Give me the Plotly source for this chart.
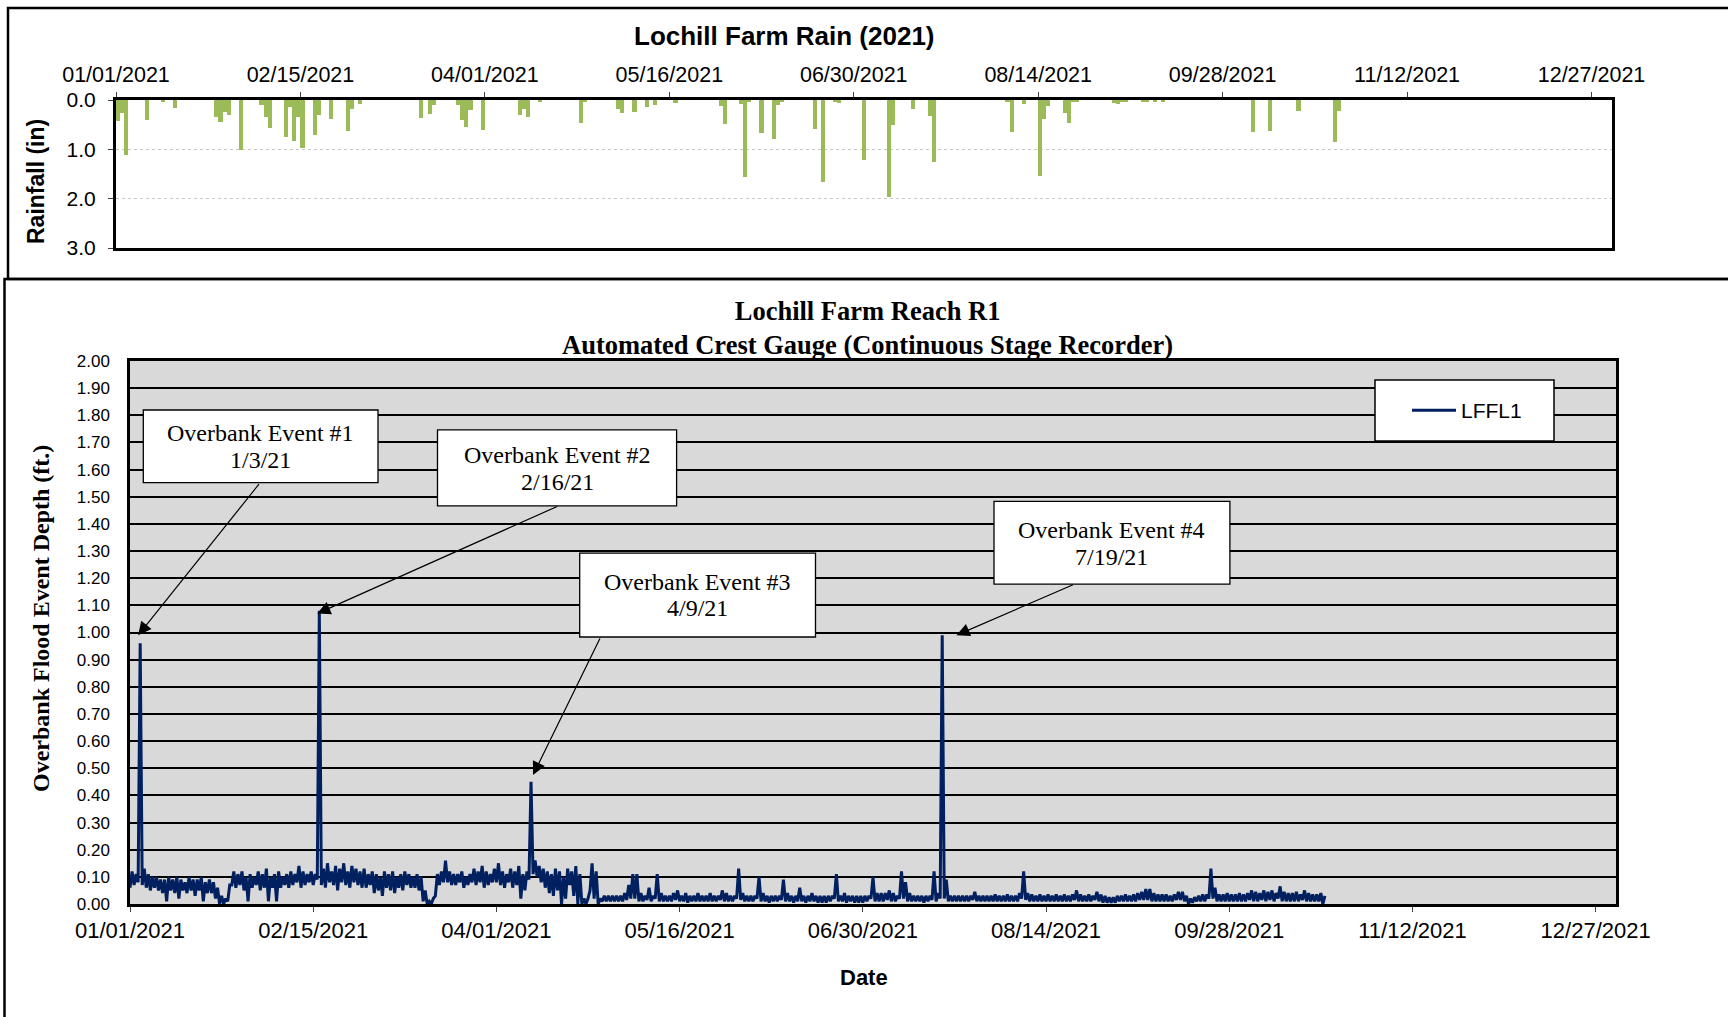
import pandas as pd
import plotly.graph_objects as go

W, H = 1728, 1017

# ---------------- data ----------------
# daily rainfall (inches), Lochill Farm 2021
rain_dates = [
    "2021-01-01", "2021-01-02", "2021-01-03", "2021-01-08", "2021-01-12", "2021-01-15",
    "2021-01-25", "2021-01-26", "2021-01-27", "2021-01-28", "2021-01-31",
    "2021-02-05", "2021-02-06", "2021-02-07", "2021-02-11", "2021-02-12", "2021-02-13",
    "2021-02-14", "2021-02-15", "2021-02-18", "2021-02-19", "2021-02-22", "2021-02-26",
    "2021-02-27", "2021-03-01", "2021-03-16", "2021-03-18", "2021-03-19", "2021-03-25",
    "2021-03-26", "2021-03-27", "2021-03-28", "2021-03-31", "2021-04-09", "2021-04-10",
    "2021-04-11", "2021-04-14", "2021-04-24", "2021-04-25", "2021-05-03", "2021-05-04",
    "2021-05-07", "2021-05-10", "2021-05-12", "2021-05-17", "2021-05-28", "2021-05-29",
    "2021-06-02", "2021-06-03", "2021-06-04", "2021-06-07", "2021-06-10", "2021-06-11",
    "2021-06-12", "2021-06-20", "2021-06-22", "2021-06-25", "2021-06-26", "2021-07-02",
    "2021-07-08", "2021-07-09", "2021-07-14", "2021-07-18", "2021-07-19", "2021-08-06",
    "2021-08-07", "2021-08-10", "2021-08-14", "2021-08-15", "2021-08-16", "2021-08-20",
    "2021-08-21", "2021-08-22", "2021-08-23", "2021-09-01", "2021-09-02", "2021-09-03",
    "2021-09-04", "2021-09-08", "2021-09-09", "2021-09-11", "2021-09-13", "2021-10-05",
    "2021-10-09", "2021-10-16", "2021-10-25", "2021-10-26",
]
rain_in = [
    0.42, 0.26, 1.12, 0.41, 0.05, 0.16,
    0.34, 0.45, 0.24, 0.31, 1.02,
    0.11, 0.34, 0.56, 0.74, 0.14, 0.83,
    0.34, 0.97, 0.70, 0.30, 0.38, 0.63,
    0.18, 0.09, 0.36, 0.29, 0.11, 0.11,
    0.41, 0.55, 0.20, 0.60, 0.30, 0.19,
    0.34, 0.05, 0.47, 0.03, 0.19, 0.27,
    0.25, 0.14, 0.11, 0.07, 0.12, 0.49,
    0.09, 1.57, 0.03, 0.67, 0.80, 0.11,
    0.05, 0.58, 1.66, 0.03, 0.07, 1.22,
    1.96, 0.50, 0.18, 0.32, 1.26, 0.05,
    0.64, 0.09, 1.55, 0.38, 0.12, 0.27,
    0.47, 0.04, 0.04, 0.07, 0.09, 0.04,
    0.04, 0.04, 0.04, 0.03, 0.03, 0.65,
    0.62, 0.22, 0.85, 0.22,
]

# continuous stage recorder LFFL1: daily low / daily high (ft), from 2021-01-01
stage_start = "2021-01-01"
stage_daily_low = [
    0.06, 0.07, 0.08, 0.07, 0.06, 0.05, 0.06, 0.05, 0.04, 0.01,
    0.05, 0.04, 0.02, 0.05, 0.04, 0.05, 0.03, 0.05, 0.01, 0.04,
    0.04, 0.02, 0.00, 0.00, 0.01, 0.07, 0.06, 0.07, 0.05, 0.01,
    0.06, 0.07, 0.05, 0.06, 0.01, 0.06, 0.01, 0.06, 0.07, 0.06,
    0.07, 0.08, 0.06, 0.07, 0.08, 0.07, 0.09, 0.07, 0.06, 0.08,
    0.07, 0.05, 0.08, 0.07, 0.06, 0.08, 0.07, 0.06, 0.06, 0.07,
    0.04, 0.05, 0.03, 0.06, 0.05, 0.04, 0.06, 0.05, 0.07, 0.06,
    0.06, 0.05, 0.01, 0.00, 0.00, 0.03, 0.07, 0.08, 0.08, 0.07,
    0.07, 0.08, 0.06, 0.07, 0.08, 0.07, 0.08, 0.06, 0.07, 0.08,
    0.08, 0.07, 0.06, 0.08, 0.06, 0.07, 0.02, 0.05, 0.09, 0.11,
    0.10, 0.08, 0.06, 0.04, 0.03, 0.05, 0.00, 0.02, 0.07, 0.03,
    0.00, 0.00, 0.00, 0.05, 0.02, 0.00, 0.01, 0.01, 0.01, 0.01,
    0.01, 0.01, 0.015, 0.02, 0.02, 0.01, 0.01, 0.015, 0.01, 0.02,
    0.01, 0.01, 0.01, 0.01, 0.015, 0.01, 0.01, 0.005, 0.01, 0.01,
    0.01, 0.01, 0.01, 0.01, 0.01, 0.015, 0.01, 0.01, 0.01, 0.02,
    0.015, 0.01, 0.01, 0.01, 0.02, 0.01, 0.01, 0.005, 0.01, 0.01,
    0.015, 0.01, 0.01, 0.005, 0.01, 0.01, 0.005, 0.01, 0.01, 0.005,
    0.005, 0.005, 0.01, 0.02, 0.01, 0.01, 0.005, 0.01, 0.005, 0.005,
    0.005, 0.01, 0.02, 0.01, 0.01, 0.01, 0.015, 0.01, 0.01, 0.02,
    0.02, 0.01, 0.01, 0.01, 0.01, 0.005, 0.01, 0.015, 0.01, 0.02,
    0.02, 0.01, 0.01, 0.01, 0.01, 0.01, 0.01, 0.015, 0.01, 0.01,
    0.01, 0.01, 0.01, 0.01, 0.01, 0.01, 0.01, 0.01, 0.01, 0.02,
    0.015, 0.01, 0.01, 0.01, 0.01, 0.01, 0.01, 0.01, 0.01, 0.01,
    0.01, 0.01, 0.015, 0.01, 0.01, 0.01, 0.01, 0.015, 0.01, 0.005,
    0.005, 0.005, 0.005, 0.01, 0.01, 0.01, 0.01, 0.01, 0.015, 0.015,
    0.015, 0.01, 0.01, 0.01, 0.01, 0.01, 0.01, 0.015, 0.015, 0.01,
    0.00, 0.005, 0.01, 0.01, 0.01, 0.02, 0.02, 0.01, 0.01, 0.01,
    0.01, 0.01, 0.01, 0.01, 0.01, 0.015, 0.01, 0.01, 0.015, 0.01,
    0.015, 0.01, 0.02, 0.01, 0.01, 0.01, 0.01, 0.01, 0.015, 0.01,
    0.01, 0.01, 0.01, 0.00,
]
stage_daily_high = [
    0.12, 0.11, 0.96, 0.13, 0.11, 0.10, 0.10, 0.09, 0.09, 0.10,
    0.09, 0.10, 0.09, 0.08, 0.10, 0.09, 0.09, 0.10, 0.08, 0.09,
    0.08, 0.06, 0.03, 0.02, 0.07, 0.12, 0.11, 0.12, 0.10, 0.11,
    0.10, 0.12, 0.11, 0.13, 0.10, 0.11, 0.12, 0.10, 0.11, 0.12,
    0.11, 0.14, 0.12, 0.11, 0.12, 0.11, 1.08, 0.13, 0.15, 0.12,
    0.14, 0.13, 0.15, 0.12, 0.14, 0.13, 0.12, 0.13, 0.11, 0.12,
    0.11, 0.10, 0.12, 0.11, 0.12, 0.10, 0.11, 0.12, 0.11, 0.10,
    0.11, 0.10, 0.05, 0.01, 0.02, 0.11, 0.12, 0.16, 0.12, 0.11,
    0.11, 0.12, 0.10, 0.11, 0.13, 0.12, 0.14, 0.12, 0.11, 0.13,
    0.15, 0.12, 0.11, 0.13, 0.12, 0.14, 0.11, 0.12, 0.45, 0.16,
    0.14, 0.13, 0.12, 0.11, 0.13, 0.12, 0.10, 0.13, 0.12, 0.14,
    0.11, 0.02, 0.02, 0.15, 0.12, 0.02, 0.03, 0.03, 0.03, 0.03,
    0.03, 0.04, 0.07, 0.11, 0.11, 0.04, 0.03, 0.06, 0.03, 0.11,
    0.04, 0.03, 0.03, 0.04, 0.05, 0.03, 0.04, 0.03, 0.03, 0.04,
    0.03, 0.03, 0.04, 0.03, 0.03, 0.05, 0.04, 0.03, 0.03, 0.13,
    0.04, 0.03, 0.03, 0.03, 0.10, 0.04, 0.03, 0.03, 0.03, 0.03,
    0.09, 0.04, 0.03, 0.03, 0.06, 0.03, 0.03, 0.04, 0.03, 0.03,
    0.03, 0.03, 0.03, 0.11, 0.03, 0.04, 0.03, 0.03, 0.03, 0.03,
    0.03, 0.03, 0.10, 0.04, 0.04, 0.04, 0.05, 0.04, 0.03, 0.12,
    0.08, 0.04, 0.03, 0.03, 0.03, 0.03, 0.03, 0.12, 0.04, 0.99,
    0.09, 0.03, 0.03, 0.03, 0.03, 0.03, 0.03, 0.045, 0.03, 0.03,
    0.03, 0.03, 0.035, 0.03, 0.03, 0.035, 0.03, 0.03, 0.04, 0.12,
    0.04, 0.035, 0.03, 0.035, 0.03, 0.035, 0.03, 0.035, 0.03, 0.035,
    0.03, 0.035, 0.05, 0.035, 0.03, 0.035, 0.03, 0.045, 0.035, 0.03,
    0.025, 0.025, 0.03, 0.03, 0.035, 0.03, 0.035, 0.04, 0.045, 0.055,
    0.055, 0.04, 0.035, 0.035, 0.035, 0.03, 0.035, 0.045, 0.045, 0.03,
    0.02, 0.025, 0.03, 0.035, 0.035, 0.13, 0.06, 0.035, 0.035, 0.04,
    0.035, 0.035, 0.04, 0.035, 0.04, 0.05, 0.045, 0.04, 0.05, 0.045,
    0.05, 0.04, 0.065, 0.045, 0.04, 0.04, 0.045, 0.035, 0.05, 0.04,
    0.035, 0.035, 0.04, 0.03,
]

# axis tick dates / labels (45-day spacing, as in the source)
tick_dates = ["2021-01-01", "2021-02-15", "2021-04-01", "2021-05-16", "2021-06-30",
              "2021-08-14", "2021-09-28", "2021-11-12", "2021-12-27"]
tick_labels = ["01/01/2021", "02/15/2021", "04/01/2021", "05/16/2021", "06/30/2021",
               "08/14/2021", "09/28/2021", "11/12/2021", "12/27/2021"]
date_range = ["2021-01-01", "2022-01-01"]

rain_ticks = [0, 1, 2, 3]
depth_ticks = [i / 10 for i in range(21)]

# overbank events: label lines, arrow target (date, depth)
event_titles = ["Overbank Event #1", "Overbank Event #2", "Overbank Event #3", "Overbank Event #4"]
event_dates_text = ["1/3/21", "2/16/21", "4/9/21", "7/19/21"]
event_tip_dates = ["2021-01-03", "2021-02-16", "2021-04-10", "2021-07-23"]
event_tip_depths = [0.99, 1.07, 0.475, 0.99]

# ---------------- layout geometry (pixels) ----------------
def px(x):
    return x / W


def py(y):
    return 1 - y / H


# label boxes: (x0, y0, x1, y1) in pixels
box_rects = [(143.3, 410.0, 378.0, 482.7), (437.5, 429.8, 676.6, 505.8),
             (579.7, 553.2, 815.5, 637.0), (994.0, 501.4, 1229.9, 584.1)]
box_text_shift = [0.0, 0.6, 0.0, 0.6]
arrow_offsets = [(122, -152.5), (241.4, -107.7), (67.6, -138), (118.1, -51.1)]

SANS = "Liberation Sans, Arial, sans-serif"
SERIF = "Liberation Serif, Times New Roman, serif"

# ---------------- stage series (low at 00:00, high at 12:00 each day) ----------------
start = pd.Timestamp(stage_start)
stage_x, stage_y = [], []
for i, (lo, hi) in enumerate(zip(stage_daily_low, stage_daily_high)):
    day = start + pd.Timedelta(days=i)
    stage_x += [day, day + pd.Timedelta(hours=12)]
    stage_y += [lo, hi]

fig = go.Figure()

fig.add_trace(go.Bar(
    x=rain_dates, y=rain_in, xaxis="x", yaxis="y",
    width=86400000, xperiod=86400000, xperiodalignment="middle",
    marker=dict(color="#9BBB59", line=dict(width=0)),
    showlegend=False, name="Rain",
))

fig.add_trace(go.Scatter(
    x=stage_x, y=stage_y, xaxis="x2", yaxis="y2", mode="lines", name="LFFL1",
    line=dict(color="#002060", width=3),
))

shapes = [
    # outer frames of the two charts
    dict(type="rect", xref="paper", yref="paper", x0=px(8), x1=1.05, y0=py(279), y1=py(8),
         line=dict(color="black", width=2.5), fillcolor="rgba(0,0,0,0)", layer="above"),
    dict(type="rect", xref="paper", yref="paper", x0=px(4.5), x1=1.05, y0=-0.05, y1=py(279),
         line=dict(color="black", width=2.5), fillcolor="rgba(0,0,0,0)", layer="above"),
    # gray plot area of stage chart
    dict(type="rect", xref="x2 domain", yref="y2 domain", x0=0, x1=1, y0=0, y1=1,
         fillcolor="#D9D9D9", line=dict(width=0), layer="below"),
    # legend box
    dict(type="rect", xref="paper", yref="paper", x0=px(1375), x1=px(1554), y0=py(441), y1=py(380),
         fillcolor="white", line=dict(color="black", width=1.5), layer="above"),
]
for (x0, y0, x1, y1) in box_rects:
    shapes.append(dict(type="rect", xref="paper", yref="paper", x0=px(x0), x1=px(x1),
                       y0=py(y1), y1=py(y0), fillcolor="white",
                       line=dict(color="black", width=1.3), layer="above"))

annotations = [
    dict(text="<b>Lochill Farm Rain (2021)</b>", x=px(784), y=py(36), xref="paper", yref="paper",
         showarrow=False, font=dict(family=SANS, size=26, color="black"), xanchor="center", yanchor="middle"),
    dict(text="<b>Rainfall (in)</b>", x=px(36), y=py(182), xref="paper", yref="paper", textangle=-90,
         showarrow=False, font=dict(family=SANS, size=23, color="black"),
         xanchor="center", yanchor="middle"),
    dict(text="<b>Lochill Farm Reach R1<br>Automated Crest Gauge (Continuous Stage Recorder)</b>",
         x=px(867), y=py(328), xref="paper", yref="paper", showarrow=False,
         font=dict(family=SERIF, size=26.5, color="black"), xanchor="center", yanchor="middle"),
    dict(text="<b>Overbank Flood Event Depth (ft.)</b>", x=px(41), y=py(619), xref="paper", yref="paper",
         textangle=-90, showarrow=False, font=dict(family=SERIF, size=24, color="black"),
         xanchor="center", yanchor="middle"),
    dict(text="<b>Date</b>", x=px(864), y=py(977), xref="paper", yref="paper", showarrow=False,
         font=dict(family=SANS, size=22, color="black"), xanchor="center", yanchor="middle"),
]

for t1, t2, (x0, y0, x1, y1), sh in zip(event_titles, event_dates_text, box_rects, box_text_shift):
    cx, cy = (x0 + x1) / 2, (y0 + y1) / 2 + sh
    for txt, dy in ((t1, -13.2), (t2, 13.2)):
        annotations.append(dict(
            text=txt, x=px(cx), y=py(cy + dy), xref="paper", yref="paper", showarrow=False,
            xanchor="center", yanchor="middle",
            font=dict(family=SERIF, size=24, color="black"),
        ))

for d, v, (ax, ay) in zip(event_tip_dates, event_tip_depths, arrow_offsets):
    annotations.append(dict(
        text="", x=d, y=v, xref="x2", yref="y2", ax=ax, ay=ay, axref="pixel", ayref="pixel",
        showarrow=True, arrowhead=2, arrowsize=2.2, arrowwidth=1.2, arrowcolor="black",
        standoff=0, startstandoff=0,
    ))

fig.update_layout(
    width=W, height=H,
    margin=dict(l=0, r=0, t=0, b=0, pad=0, autoexpand=False),
    paper_bgcolor="white", plot_bgcolor="white",
    bargap=0,
    showlegend=True,
    legend=dict(x=px(1407), y=py(410.5), xanchor="left", yanchor="middle",
                bgcolor="rgba(0,0,0,0)", borderwidth=0, itemwidth=44,
                font=dict(family=SANS, size=21, color="black")),
    shapes=shapes, annotations=annotations,
    xaxis=dict(
        domain=[px(116), px(1612)], anchor="y", side="top", type="date", range=date_range,
        tickvals=tick_dates, ticktext=tick_labels, ticks="outside", ticklen=5, tickcolor="#404040",
        tickfont=dict(family=SANS, size=21.5, color="black"), ticklabelstandoff=1,
        showline=True, linecolor="black", linewidth=3, mirror=True, showgrid=False, zeroline=False,
        automargin=False,
    ),
    yaxis=dict(
        domain=[py(248), py(100)], anchor="x", range=[3, 0], tickvals=rain_ticks, tickformat=".1f",
        ticks="outside", ticklen=5, tickcolor="#404040",
        tickfont=dict(family=SANS, size=21, color="black"), ticklabelstandoff=8,
        showgrid=True, gridcolor="#C8C8C8", griddash="dot", gridwidth=1,
        showline=True, linecolor="black", linewidth=3, mirror=True, zeroline=False,
        automargin=False,
    ),
    xaxis2=dict(
        domain=[px(130), px(1616)], anchor="y2", side="bottom", type="date", range=date_range,
        tickvals=tick_dates, ticktext=tick_labels, ticks="outside", ticklen=5, tickcolor="#404040",
        tickfont=dict(family=SANS, size=22, color="black"), ticklabelstandoff=0,
        showline=True, linecolor="black", linewidth=2.5, mirror=True, showgrid=False, zeroline=False,
        automargin=False,
    ),
    yaxis2=dict(
        domain=[py(904), py(361)], anchor="x2", range=[0, 2], tickvals=depth_ticks, tickformat=".2f",
        ticks="", tickfont=dict(family=SANS, size=17, color="black"), ticklabelstandoff=14,
        showgrid=True, gridcolor="black", gridwidth=2,
        showline=True, linecolor="black", linewidth=2.5, mirror=True, zeroline=False,
        automargin=False,
    ),
)

fig.write_html("out.html", config={"displayModeBar": False},
               post_script="document.body.style.margin='0';document.body.style.overflow='hidden';")
